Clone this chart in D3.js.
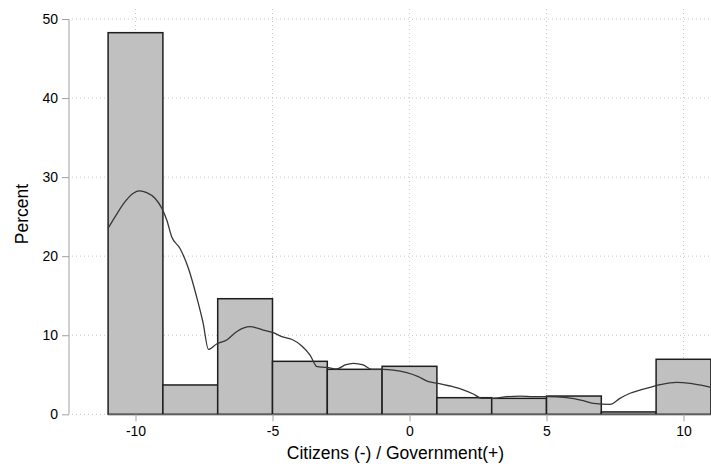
<!DOCTYPE html>
<html>
<head>
<meta charset="utf-8">
<script src="https://cdn.jsdelivr.net/npm/d3@7"></script>
<style>
  html, body { margin: 0; padding: 0; background: #fff; }
  svg { display: block; font-family: "Liberation Sans", Arial, Helvetica, sans-serif; }
</style>
</head>
<body>
<svg id="chart" width="711" height="467"></svg>
<script>
// Histogram bins (lower edge, upper edge) and percent
const binStarts = [-11, -9, -7, -5, -3, -1, 1, 3, 5, 7, 9];
const binWidth = 2;
const percents = [48.27, 3.71, 14.62, 6.70, 5.69, 6.07, 2.10, 2.02, 2.31, 0.3, 6.96];

// Kernel density curve (scaled to percent)
const densX = [-11, -10.69, -10.38, -10.08, -9.86, -9.59, -9.29, -9.04, -8.86, -8.68, -8.38, -8.07, -7.77, -7.53, -7.34,
  -7.04, -6.67, -6.31, -5.82, -5.34, -4.97, -4.66, -4.30, -3.93, -3.63, -3.37, -3.02, -2.66, -2.35,
  -2.05, -1.69, -1.38, -0.96, -0.59, -0.10, 0.32, 0.69, 1.05, 1.48, 1.91, 2.33, 2.64, 3.06, 3.55,
  4.03, 4.52, 5.01, 5.74, 6.34, 6.71, 7.32, 7.68, 8.05, 8.41, 8.78, 9.14, 9.75, 10.24, 10.72, 11];
const densY = [23.53, 25.30, 26.89, 27.95, 28.25, 28.03, 27.32, 26.06, 24.58, 22.46, 21.00, 18.47, 14.87, 11.51, 8.22,
  8.89, 9.40, 10.45, 11.08, 10.66, 10.32, 9.82, 9.49, 8.64, 7.50, 6.02, 5.94, 5.73, 6.24,
  6.45, 6.24, 5.69, 5.69, 5.60, 5.26, 4.76, 4.12, 3.92, 3.58, 3.16, 2.57, 2.02, 2.02, 2.23,
  2.31, 2.23, 2.23, 2.10, 1.72, 1.39, 1.26, 2.02, 2.66, 3.07, 3.42, 3.74, 4.05, 3.92, 3.62, 3.42];

const xTicks = [-10, -5, 0, 5, 10];
const yTicks = [0, 10, 20, 30, 40, 50];
const xTitle = "Citizens (-) / Government(+)";
const yTitle = "Percent";

const svg = d3.select("#chart");
const x = d3.scaleLinear().domain([-10, 10]).range([135.5, 683.5]);
const y = d3.scaleLinear().domain([0, 50]).range([414.3, 19]);

const gridColor = "#c8c8c8";
const axisColor = "#a0a0a0";
const fmt = d => String(d);

// horizontal gridlines
svg.append("g").selectAll("line").data(yTicks).join("line")
  .attr("x1", 72).attr("x2", 711)
  .attr("y1", d => y(d)).attr("y2", d => y(d))
  .attr("stroke", gridColor).attr("stroke-width", 1)
  .attr("stroke-dasharray", "1,3");

// vertical gridlines
svg.append("g").selectAll("line").data(xTicks).join("line")
  .attr("x1", d => x(d)).attr("x2", d => x(d))
  .attr("y1", 9).attr("y2", 414)
  .attr("stroke", gridColor).attr("stroke-width", 1)
  .attr("stroke-dasharray", "1,3");

// bars
svg.append("g").selectAll("rect").data(binStarts).join("rect")
  .attr("x", d => x(d))
  .attr("width", d => x(d + binWidth) - x(d))
  .attr("y", (d, i) => y(percents[i]))
  .attr("height", (d, i) => y(0) - y(percents[i]))
  .attr("fill", "#c0c0c0")
  .attr("stroke", "#1e1e1e")
  .attr("stroke-width", 1.5);

// x axis line (range of data)
svg.append("line")
  .attr("x1", x(-11)).attr("x2", x(11))
  .attr("y1", y(0) + 0.7).attr("y2", y(0) + 0.7)
  .attr("stroke", axisColor).attr("stroke-width", 1);

// density curve
const line = d3.line().x(d => x(d[0])).y(d => y(d[1])).curve(d3.curveMonotoneX);
svg.append("path")
  .datum(densX.map((v, i) => [v, densY[i]]))
  .attr("d", line)
  .attr("fill", "none")
  .attr("stroke", "#363636")
  .attr("stroke-width", 1.3);

// y axis
const yAxis = d3.axisLeft(y).tickValues(yTicks).tickSize(7).tickPadding(4).tickFormat(fmt);
const gy = svg.append("g").attr("transform", "translate(69,0)").call(yAxis);
gy.select(".domain").attr("stroke", axisColor).attr("d", `M-0,${y(50)}V${y(0)}`);
gy.selectAll(".tick line").attr("stroke", axisColor);
gy.selectAll(".tick text").attr("font-size", 14).attr("fill", "#000")
  .attr("font-family", "'Liberation Sans', Arial, sans-serif");

// x axis
const xAxis = d3.axisBottom(x).tickValues(xTicks).tickSize(7).tickPadding(5).tickFormat(fmt);
const gx = svg.append("g").attr("transform", "translate(0,414.3)").call(xAxis);
gx.select(".domain").remove();
gx.selectAll(".tick line").attr("stroke", axisColor);
gx.selectAll(".tick text").attr("font-size", 14).attr("fill", "#000")
  .attr("font-family", "'Liberation Sans', Arial, sans-serif");

// titles
svg.append("text")
  .attr("x", 395.5).attr("y", 459)
  .attr("text-anchor", "middle")
  .attr("font-size", 17.5).attr("fill", "#000")
  .text(xTitle);

svg.append("text")
  .attr("transform", "translate(28,214) rotate(-90)")
  .attr("text-anchor", "middle")
  .attr("font-size", 17.5).attr("fill", "#000")
  .text(yTitle);
</script>
</body>
</html>
